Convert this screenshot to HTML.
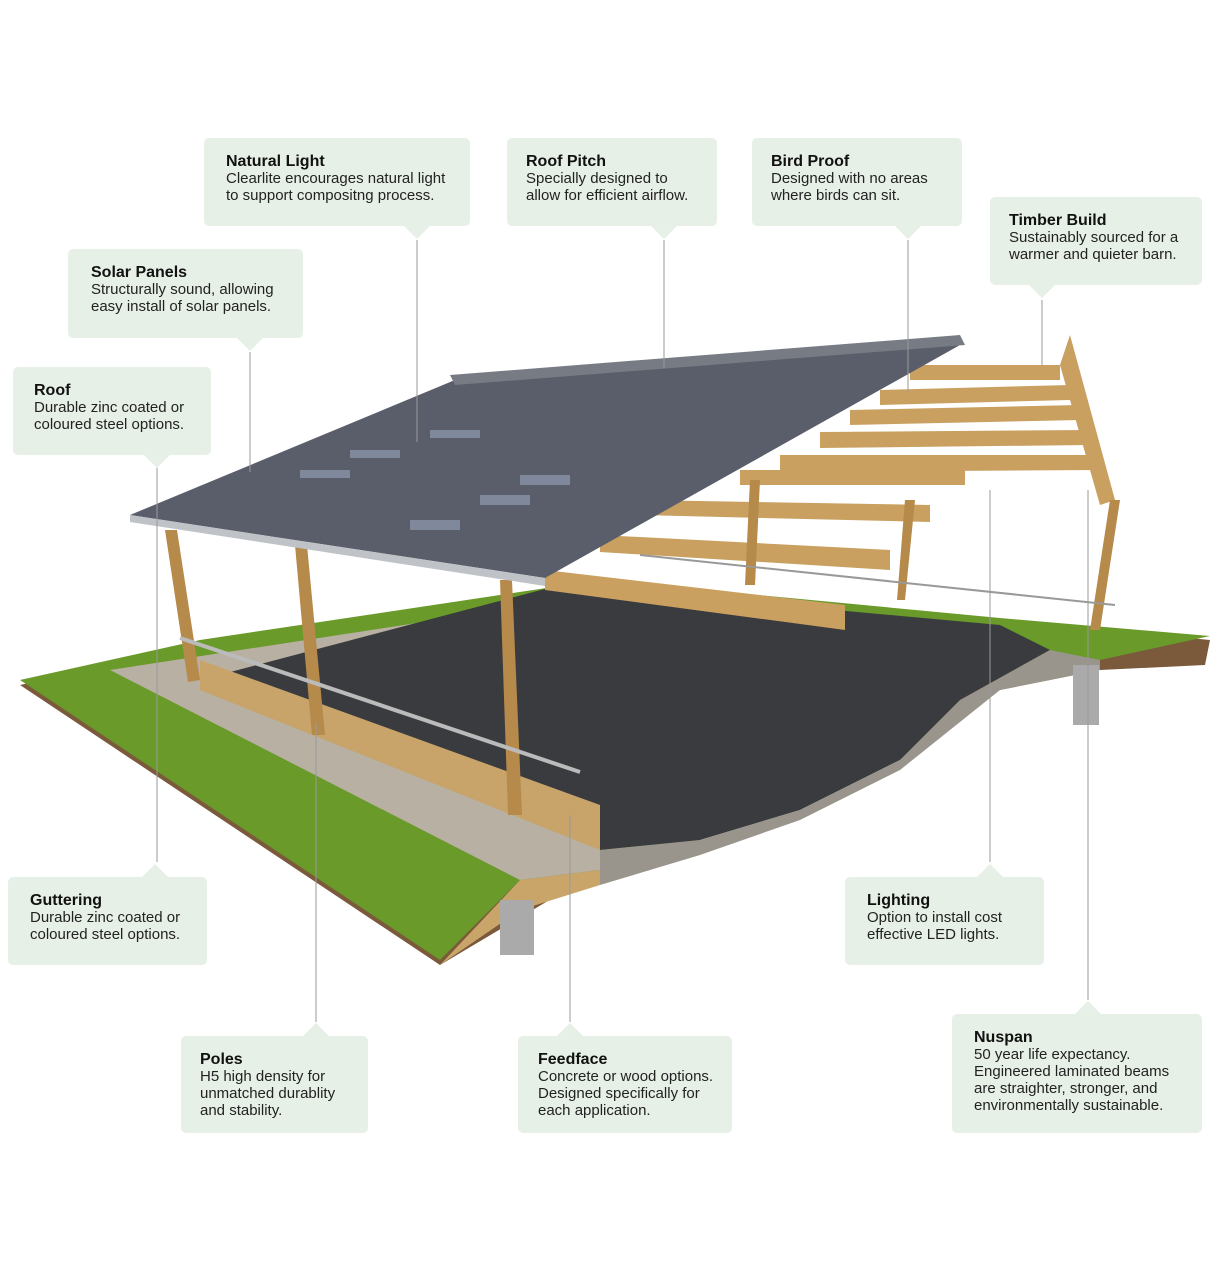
<!DOCTYPE html>
<html><head><meta charset="utf-8"><style>
body{margin:0;background:#fff;width:1220px;height:1288px;position:relative;overflow:hidden;font-family:"Liberation Sans",sans-serif}
.b{position:absolute;background:#e7f0e6;border-radius:5px;box-sizing:border-box;padding:15px 0 0 22px;font-size:15px;line-height:17px;color:#222}
.b b{font-size:16px;color:#111;display:block}
.pd:after{content:"";position:absolute;bottom:-13px;left:var(--p);margin-left:-13px;border:13px solid transparent;border-bottom:0;border-top-color:#e7f0e6}
.pu:before{content:"";position:absolute;top:-13px;left:var(--p);margin-left:-13px;border:13px solid transparent;border-top:0;border-bottom-color:#e7f0e6}
svg{position:absolute;left:0;top:0}
</style></head><body>
<svg width="1220" height="1288">
<polygon points="20,685 200,645 600,585 1000,620 1210,640 1205,665 1100,670 1000,690 950,720 900,760 800,800 700,840 600,870 440,965" fill="#7a5a3a"/>
<polygon points="20,680 200,640 600,580 1000,618 1210,636 1100,660 1000,680 600,870 520,880 440,960" fill="#6a9a2a"/>
<polygon points="110,670 600,595 600,870 520,880" fill="#b8b0a2"/>
<polygon points="200,680 560,585 1000,625 1050,650 960,700 900,760 800,810 700,840 600,850 520,790" fill="#3a3b3f"/>
<polygon points="600,850 700,840 800,810 900,760 960,700 1050,650 1100,660 1100,670 1000,690 950,730 900,770 800,820 700,855 600,885" fill="#9a958c"/>
<polygon points="520,880 600,870 600,885 520,910 440,965" fill="#c9a56a"/>
<rect x="500" y="900" width="34" height="55" fill="#aaa"/>
<rect x="1073" y="665" width="26" height="60" fill="#aaa"/>
<polygon points="200,660 600,805 600,850 200,690" fill="#c8a46a"/>
<g fill="#c9a060">
<polygon points="910,365 1060,365 1060,380 910,380"/><polygon points="880,390 1070,385 1070,400 880,405"/>
<polygon points="850,410 1080,405 1080,420 850,425"/><polygon points="820,432 1090,430 1090,445 820,448"/>
<polygon points="780,455 1100,455 1100,470 780,472"/><polygon points="740,470 965,470 965,485 740,485"/>
<polygon points="640,500 930,505 930,522 640,515"/><polygon points="600,535 890,550 890,570 600,552"/>
<polygon points="545,570 845,605 845,630 545,590"/><polygon points="1070,335 1115,500 1100,505 1060,365"/>
</g>
<g fill="#b58a4a"><polygon points="165,530 177,530 200,680 188,682"/><polygon points="295,545 307,545 325,735 312,735"/>
<polygon points="500,580 512,580 522,815 508,815"/><polygon points="750,480 760,480 755,585 745,585"/>
<polygon points="905,500 915,500 905,600 897,600"/><polygon points="1110,500 1120,500 1100,630 1090,630"/></g>
<polyline points="180,638 580,772" stroke="#bbb" stroke-width="4" fill="none"/>
<polyline points="640,555 1115,605" stroke="#999" stroke-width="2" fill="none"/>
<polygon points="130,515 455,380 960,345 545,578" fill="#5a5e6a"/>
<polygon points="130,515 545,578 545,586 130,522" fill="#bfc2c6"/>
<polygon points="450,375 960,335 965,345 455,385" fill="#777c84"/>
<g fill="#8a94a8" opacity=".8"><rect x="410" y="520" width="50" height="10"/><rect x="480" y="495" width="50" height="10"/><rect x="520" y="475" width="50" height="10"/><rect x="300" y="470" width="50" height="8"/><rect x="350" y="450" width="50" height="8"/><rect x="430" y="430" width="50" height="8"/></g>
<g stroke="#999" stroke-width="1">
<line x1="417" y1="240" x2="417" y2="442"/><line x1="664" y1="240" x2="664" y2="368"/><line x1="908" y1="240" x2="908" y2="392"/>
<line x1="1042" y1="300" x2="1042" y2="365"/><line x1="250" y1="352" x2="250" y2="472"/><line x1="157" y1="468" x2="157" y2="862"/>
<line x1="316" y1="722" x2="316" y2="1022"/><line x1="570" y1="815" x2="570" y2="1022"/><line x1="990" y1="490" x2="990" y2="862"/><line x1="1088" y1="490" x2="1088" y2="1000"/>
</g>
</svg>
<div class="b pd" style="left:204px;top:138px;width:266px;height:88px;--p:213px"><b>Natural Light</b>Clearlite encourages natural light<br>to support compositng process.</div>
<div class="b pd" style="left:507px;top:138px;width:210px;height:88px;--p:157px;padding-left:19px"><b>Roof Pitch</b>Specially designed to<br>allow for efficient airflow.</div>
<div class="b pd" style="left:752px;top:138px;width:210px;height:88px;--p:156px;padding-left:19px"><b>Bird Proof</b>Designed with no areas<br>where birds can sit.</div>
<div class="b pd" style="left:990px;top:197px;width:212px;height:88px;--p:52px;padding-left:19px"><b>Timber Build</b>Sustainably sourced for a<br>warmer and quieter barn.</div>
<div class="b pd" style="left:68px;top:249px;width:235px;height:89px;--p:182px;padding-left:23px"><b>Solar Panels</b>Structurally sound, allowing<br>easy install of solar panels.</div>
<div class="b pd" style="left:13px;top:367px;width:198px;height:88px;--p:144px;padding-left:21px"><b>Roof</b>Durable zinc coated or<br>coloured steel options.</div>
<div class="b pu" style="left:8px;top:877px;width:199px;height:88px;--p:147px"><b>Guttering</b>Durable zinc coated or<br>coloured steel options.</div>
<div class="b pu" style="left:181px;top:1036px;width:187px;height:97px;--p:135px;padding-left:19px"><b>Poles</b>H5 high density for<br>unmatched durablity<br>and stability.</div>
<div class="b pu" style="left:518px;top:1036px;width:214px;height:97px;--p:52px;padding-left:20px"><b>Feedface</b>Concrete or wood options.<br>Designed specifically for<br>each application.</div>
<div class="b pu" style="left:845px;top:877px;width:199px;height:88px;--p:145px"><b>Lighting</b>Option to install cost<br>effective LED lights.</div>
<div class="b pu" style="left:952px;top:1014px;width:250px;height:119px;--p:136px"><b>Nuspan</b>50 year life expectancy.<br>Engineered laminated beams<br>are straighter, stronger, and<br>environmentally sustainable.</div>
</body></html>
